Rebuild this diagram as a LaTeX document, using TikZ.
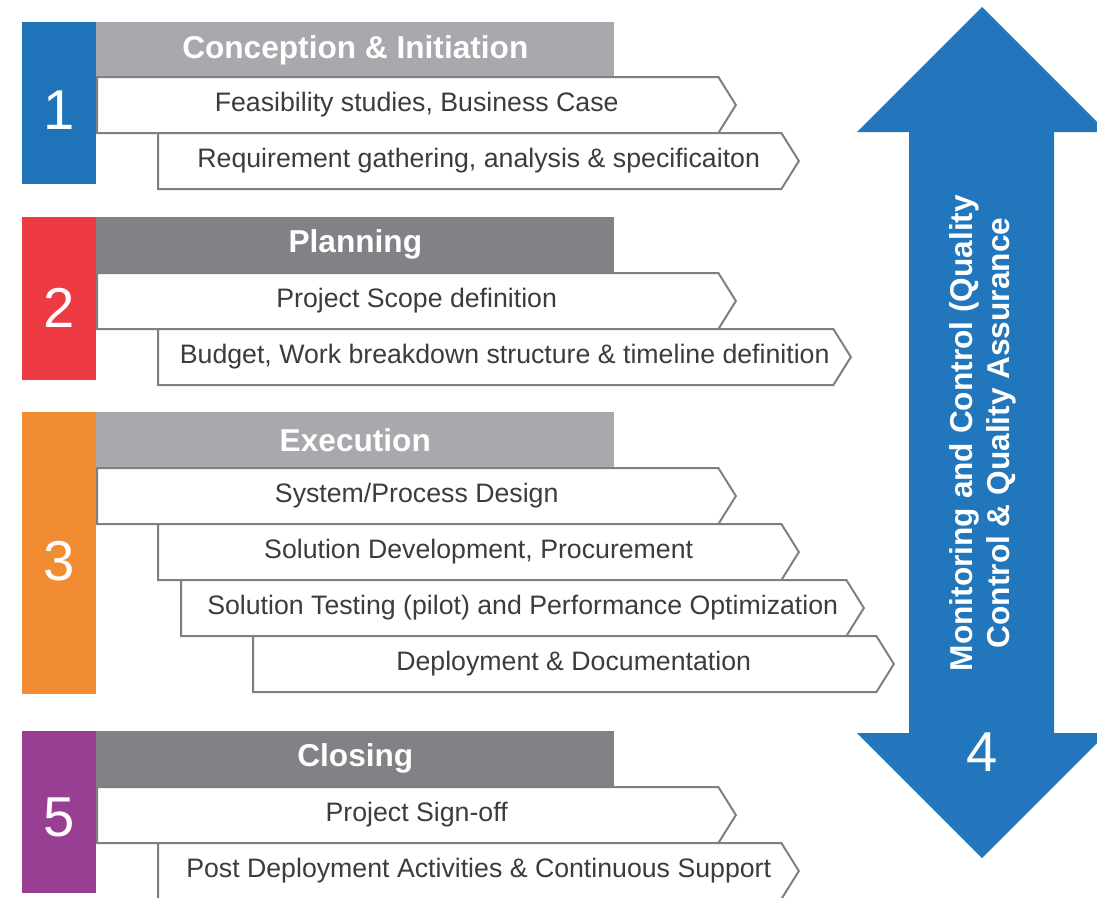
\documentclass[tikz,border=0pt]{standalone}
\usepackage{fontspec}
\setmainfont{Liberation Sans}
\usetikzlibrary{shapes.symbols}

\definecolor{phaseblue}{HTML}{1F74B9}
\definecolor{phasered}{HTML}{EE3A43}
\definecolor{phaseorange}{HTML}{F28C33}
\definecolor{phasepurple}{HTML}{993F93}
\definecolor{arrowblue}{HTML}{2176BC}
\definecolor{headlight}{HTML}{A7A9AC}
\definecolor{headdark}{HTML}{808285}
\definecolor{tagline}{HTML}{7E7F82}
\definecolor{tagtext}{HTML}{3C3C3E}

\begin{document}
\begin{tikzpicture}[
    x=0.02cm, y=-0.02cm,
    tagbox/.style={signal, signal to=east, signal from=nowhere, signal pointer angle=116, draw=tagline, line width=0.04cm, fill=white, minimum height=1.12cm, inner sep=0pt, anchor=west, text=tagtext, font=\fontsize{15.2}{18}\selectfont, execute at begin node=\hspace*{0.36cm}},
    head/.style={rectangle, fill=headlight, minimum width=10.36cm, minimum height=1.1cm, anchor=north west, inner sep=0pt, text=white, font=\bfseries\fontsize{18}{21}\selectfont},
    numbox/.style={rectangle, minimum width=1.48cm, anchor=north west, inner sep=0pt},
    digit/.style={text=white, font=\fontsize{32}{36}\selectfont}
]
    \useasboundingbox (0,0) rectangle (1097,897);

    % Fase 1
    \node[head] (conception) at (96,22) {Conception \& Initiation};
    \node[tagbox, minimum width=12.78cm] (feasibility) at (96,105) {Feasibility studies, Business Case};
    \node[tagbox, minimum width=12.82cm] (requirement) at (157,161) {Requirement gathering, analysis \& specificaiton};

    % Fase 2
    \node[head, fill=headdark] (planning) at (96,217) {Planning};
    \node[tagbox, minimum width=12.78cm] (scope) at (96,301) {Project Scope definition};
    \node[tagbox, minimum width=13.86cm] (budget) at (157,357) {Budget, Work breakdown structure \& timeline definition};

    % Fase 3
    \node[head] (execution) at (96,412) {Execution};
    \node[tagbox, minimum width=12.78cm] (design) at (96,496) {System/Process Design};
    \node[tagbox, minimum width=12.82cm] (development) at (157,552) {Solution Development, Procurement};
    \node[tagbox, minimum width=13.66cm] (testing) at (180,608) {Solution Testing (pilot) and Performance Optimization};
    \node[tagbox, minimum width=12.82cm] (deployment) at (252,664) {Deployment \& Documentation};

    % Fase 5
    \node[head, fill=headdark] (closing) at (96,731) {Closing};
    \node[tagbox, minimum width=12.78cm] (signoff) at (96,815) {Project Sign-off};
    \node[tagbox, minimum width=12.82cm] (support) at (157,871) {Post Deployment Activities \& Continuous Support};

    % Numeros de fase
    \node[numbox, fill=phaseblue, minimum height=3.24cm] (num1) at (22,22) {};
    \node[numbox, fill=phasered, minimum height=3.26cm] (num2) at (22,217) {};
    \node[numbox, fill=phaseorange, minimum height=5.64cm] (num3) at (22,412) {};
    \node[numbox, fill=phasepurple, minimum height=3.24cm] (num5) at (22,731) {};
    \node[digit] at ([yshift=-0.13cm]num1.center) {1};
    \node[digit] at ([yshift=-0.18cm]num2.center) {2};
    \node[digit] at ([yshift=-0.16cm]num3.center) {3};
    \node[digit] at ([yshift=-0.10cm]num5.center) {5};

    % Flecha doble: monitoreo y control
    \fill[arrowblue] (982,7) -- (1107,132) -- (1054,132) -- (1054,733) -- (1107,733)
        -- (982,858) -- (857,733) -- (909,733) -- (909,132) -- (857,132) -- cycle;
    \node[rotate=90, align=center, text=white, font=\bfseries\fontsize{18}{21}\selectfont] (monitoring) at (983,433)
        {Monitoring and Control (Quality\\Control \& Quality Assurance};
    \node[digit] (num4) at (982,752) {4};
\end{tikzpicture}
\end{document}
